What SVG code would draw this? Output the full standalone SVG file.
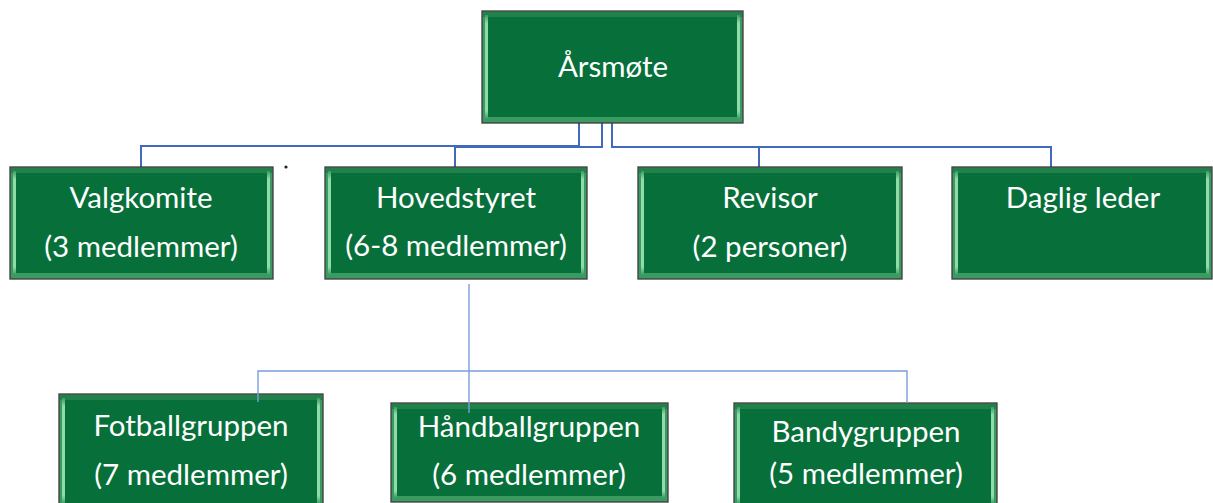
<svg xmlns="http://www.w3.org/2000/svg" width="1213" height="503" viewBox="0 0 1213 503">
<defs>
<style>
.outer{fill:#3a9a62;stroke:#3b3b3b;stroke-width:1.3}
.topb{fill:#22804a}
.inner{fill:#07703a}
.stripe{fill:url(#sg)}
.t{font-family:Lato,"Liberation Sans",sans-serif;font-size:29.5px;fill:#ffffff;text-anchor:middle}
.c1{fill:none;stroke:#4169bd;stroke-width:2}
.c2{fill:none;stroke:#7b9edb;stroke-width:1.4}
</style>
<linearGradient id="sg" x1="0" y1="0" x2="0" y2="1">
<stop offset="0" stop-color="#3a9a62"/>
<stop offset="0.08" stop-color="#8fdcaa"/>
<stop offset="0.92" stop-color="#8fdcaa"/>
<stop offset="1" stop-color="#3a9a62"/>
</linearGradient>
</defs>
<rect width="1213" height="503" fill="#ffffff"/>
<g id="connectors">
<path class="c1" d="M579 123V146H141V167"/>
<path class="c1" d="M602 123V147H455V167"/>
<path class="c1" d="M612 123V147H1051V167"/>
<path class="c1" d="M759 147V167"/>
</g>
<g id="arsmote">
<rect class="outer" x="482" y="11" width="261" height="112"/>
<rect class="topb" x="483" y="12" width="259" height="5"/>
<rect class="stripe" x="485" y="15" width="3" height="104"/>
<rect class="stripe" x="737" y="15" width="3" height="104"/>
<rect class="inner" x="488" y="17" width="249" height="100"/>
<text class="t" x="613" y="77">Årsmøte</text>
</g>
<g id="valgkomite">
<rect class="outer" x="10" y="167" width="263" height="112"/>
<rect class="topb" x="11" y="168" width="261" height="5"/>
<rect class="stripe" x="13" y="171" width="3" height="104"/>
<rect class="stripe" x="267" y="171" width="3" height="104"/>
<rect class="inner" x="16" y="173" width="251" height="100"/>
<text class="t" x="141" y="208">Valgkomite</text>
<text class="t" x="141" y="257">(3 medlemmer)</text>
</g>
<circle cx="286" cy="167" r="1.6" fill="#222"/>
<g id="hovedstyret">
<rect class="outer" x="325" y="167" width="262" height="112"/>
<rect class="topb" x="326" y="168" width="260" height="5"/>
<rect class="stripe" x="328" y="171" width="3" height="104"/>
<rect class="stripe" x="581" y="171" width="3" height="104"/>
<rect class="inner" x="331" y="173" width="250" height="100"/>
<text class="t" x="456" y="208">Hovedstyret</text>
<text class="t" x="456" y="256">(6-8 medlemmer)</text>
</g>
<g id="revisor">
<rect class="outer" x="638" y="167" width="264" height="112"/>
<rect class="topb" x="639" y="168" width="262" height="5"/>
<rect class="stripe" x="641" y="171" width="3" height="104"/>
<rect class="stripe" x="896" y="171" width="3" height="104"/>
<rect class="inner" x="644" y="173" width="252" height="100"/>
<text class="t" x="770" y="208">Revisor</text>
<text class="t" x="770" y="257">(2 personer)</text>
</g>
<g id="daglig-leder">
<rect class="outer" x="952" y="167" width="260" height="112"/>
<rect class="topb" x="953" y="168" width="258" height="5"/>
<rect class="stripe" x="955" y="171" width="3" height="104"/>
<rect class="stripe" x="1206" y="171" width="3" height="104"/>
<rect class="inner" x="958" y="173" width="248" height="100"/>
<text class="t" x="1083" y="208">Daglig leder</text>
</g>
<g id="fotballgruppen">
<rect class="outer" x="59" y="394" width="264" height="114"/>
<rect class="topb" x="60" y="395" width="262" height="5"/>
<rect class="stripe" x="62" y="398" width="3" height="106"/>
<rect class="stripe" x="317" y="398" width="3" height="106"/>
<rect class="inner" x="65" y="400" width="252" height="104"/>
<text class="t" x="191" y="436">Fotballgruppen</text>
<text class="t" x="191" y="485">(7 medlemmer)</text>
</g>
<g id="handballgruppen">
<rect class="outer" x="391" y="403" width="277" height="99"/>
<rect class="topb" x="392" y="404" width="275" height="5"/>
<rect class="stripe" x="394" y="407" width="3" height="91"/>
<rect class="stripe" x="662" y="407" width="3" height="91"/>
<rect class="inner" x="397" y="409" width="265" height="87"/>
<text class="t" x="529" y="437">Håndballgruppen</text>
<text class="t" x="529" y="485">(6 medlemmer)</text>
</g>
<g id="bandygruppen">
<rect class="outer" x="734" y="403" width="263" height="105"/>
<rect class="topb" x="735" y="404" width="261" height="5"/>
<rect class="stripe" x="737" y="407" width="3" height="97"/>
<rect class="stripe" x="991" y="407" width="3" height="97"/>
<rect class="inner" x="740" y="409" width="251" height="95"/>
<text class="t" x="866" y="442">Bandygruppen</text>
<text class="t" x="866" y="484">(5 medlemmer)</text>
</g>
<g id="connectors-lower">
<path class="c2" d="M469 284V413"/>
<path class="c2" d="M258 402V371H907V403"/>
</g>
</svg>
